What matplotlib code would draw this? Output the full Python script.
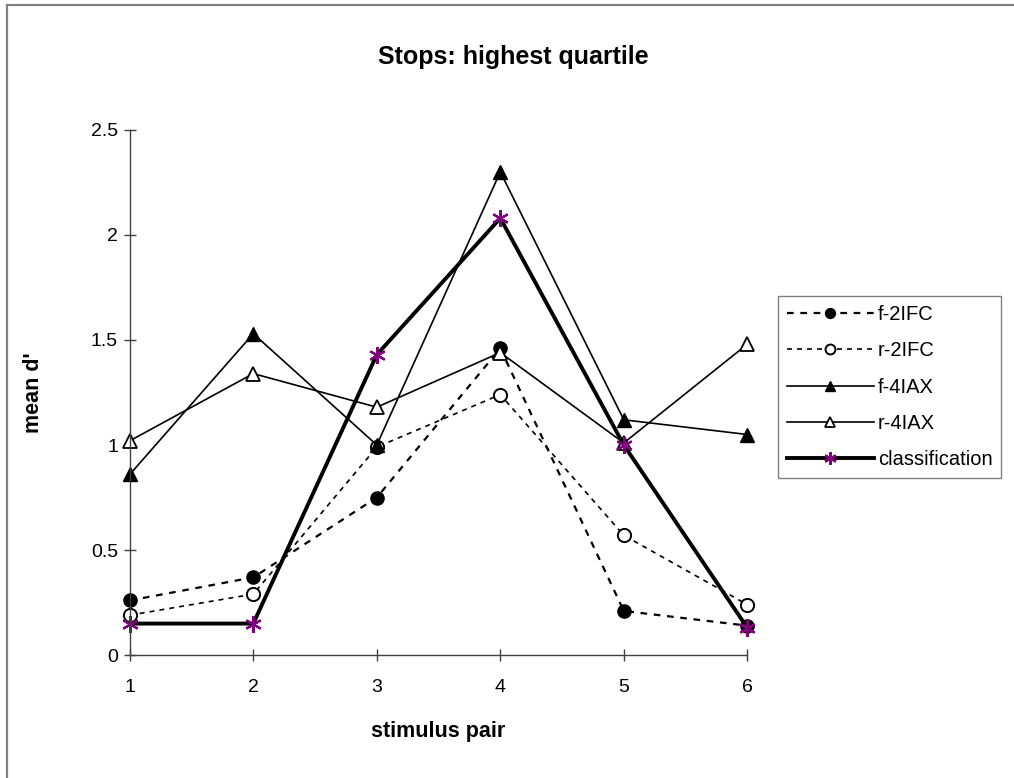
import matplotlib.pyplot as plt
import matplotlib.patches as mpatches
import numpy as np

pairs = [1, 2, 3, 4, 5, 6]
f_2ifc = [0.26, 0.37, 0.75, 1.46, 0.21, 0.14]
r_2ifc = [0.19, 0.29, 0.99, 1.24, 0.57, 0.24]
f_4iax = [0.86, 1.53, 1.00, 2.30, 1.12, 1.05]
r_4iax = [1.02, 1.34, 1.18, 1.44, 1.01, 1.48]
classif = [0.15, 0.15, 1.43, 2.08, 1.00, 0.13]

plt.rcParams['font.family'] = ['Liberation Sans', 'DejaVu Sans']

fig = plt.figure(figsize=(10.14, 7.78), dpi=100)
ax = fig.add_axes([0.128, 0.158, 0.609, 0.675])

# grey frame round the chart area (open on right and bottom)
fig.patches.append(mpatches.Rectangle((7/1014, -0.1), 1.2, 1 - 5/778 + 0.1,
                                      transform=fig.transFigure, fill=False,
                                      edgecolor='#808080', linewidth=1.6))

ax.plot(pairs, f_2ifc, color='black', linestyle=(0, (3, 3)), linewidth=1.6,
        marker='o', markersize=9.5, markerfacecolor='black', label='f-2IFC')
ax.plot(pairs, r_2ifc, color='black', linestyle=(0, (3, 3)), linewidth=1.2,
        marker='o', markersize=9.5, markerfacecolor='white', markeredgewidth=1.4,
        label='r-2IFC')
ax.plot(pairs, f_4iax, color='black', linewidth=1.2,
        marker='^', markersize=10.5, markerfacecolor='black', label='f-4IAX')
ax.plot(pairs, r_4iax, color='black', linewidth=1.2,
        marker='^', markersize=10.5, markerfacecolor='white', markeredgewidth=1.3,
        label='r-4IAX')
ax.plot(pairs, classif, color='black', linewidth=2.8,
        marker=(6, 2, 0), markersize=12, markeredgecolor='#800080',
        markeredgewidth=1.6, label='classification')

ax.set_xlim(1, 6)
ax.set_ylim(0, 2.5)
ax.set_xticks(pairs)
ax.set_yticks([0, 0.5, 1, 1.5, 2, 2.5])
ax.set_yticklabels(['0', '0.5', '1', '1.5', '2', '2.5'])
for s in ['top', 'right']:
    ax.spines[s].set_visible(False)
for s in ['left', 'bottom']:
    ax.spines[s].set_color('#404040')
    ax.spines[s].set_linewidth(1.0)
ax.tick_params(direction='inout', length=9, width=1.0, color='#404040',
               labelsize=14)
ax.tick_params(axis='x', pad=13)
ax.tick_params(axis='y', pad=4)
for ln in ax.lines:
    ln.set_clip_on(False)

fig.text(0.506, 1 - 57/778, 'Stops: highest quartile', fontsize=18,
         fontweight='bold', ha='center', va='center')
ax.set_xlabel('stimulus pair', fontsize=15.5, fontweight='bold', labelpad=18)
ax.set_ylabel("mean d'", fontsize=15.5, fontweight='bold', labelpad=34)

leg = ax.legend(loc='upper left', bbox_to_anchor=(778/1014, 1 - 296/778),
                bbox_transform=fig.transFigure, frameon=True,
                fancybox=False, edgecolor='#606060', fontsize=14.5,
                handlelength=4.3, borderpad=0.45, labelspacing=0.86,
                handletextpad=0.2, markerscale=0.75, borderaxespad=0)
leg.get_frame().set_linewidth(1.0)

fig.savefig('out.png', dpi=100)
